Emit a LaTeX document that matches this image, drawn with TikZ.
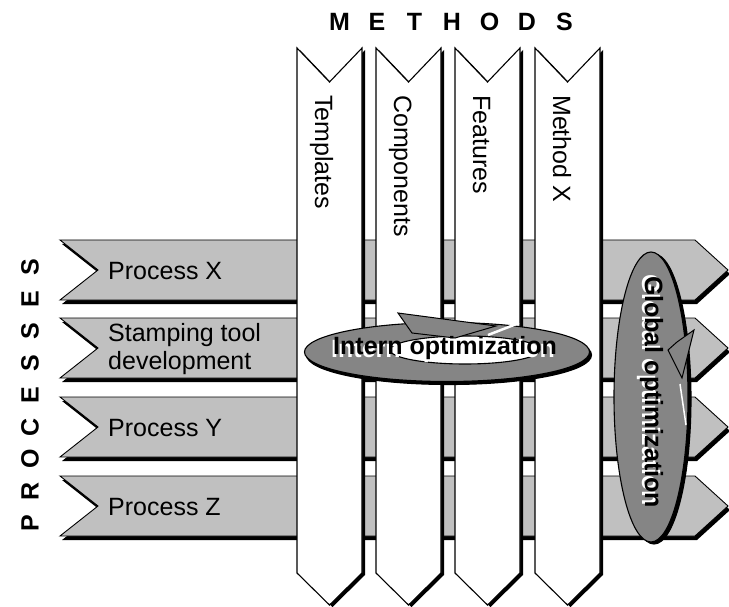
\documentclass[tikz,border=0pt]{standalone}
\usepackage{fontspec}
\setmainfont{Liberation Sans}
\usetikzlibrary{shapes.geometric,positioning}
\definecolor{bandgray}{HTML}{C0C0C0}
\definecolor{ovalgray}{HTML}{858585}
% bold text with a white copy set just below it
\newcommand{\embossed}[1]{\makebox[0pt][l]{\hspace{-2pt}\raisebox{-3pt}{\color{white}#1}}#1}
\tikzset{
    % process bands, running left to right
    band/.style={
           fill=bandgray,
           draw=black, line width=0.9pt,
           line join=miter},
    % method columns, running top to bottom
    column/.style={
           fill=white,
           draw=black, line width=1.1pt,
           line join=miter},
    shadowfill/.style={fill=black},
    bandlabel/.style={
           font=\fontsize{25}{28}\selectfont,
           anchor=west, align=left,
           inner sep=0pt},
    collabel/.style={
           font=\fontsize{25}{28}\selectfont,
           rotate=-90, anchor=base west,
           inner sep=0pt},
    headletter/.style={
           font=\bfseries\fontsize{25}{28}\selectfont,
           inner sep=0pt},
    % optimization ovals
    oval/.style={
           ellipse,
           draw=black, line width=1.1pt,
           fill=ovalgray,
           inner sep=0pt},
    ovaltext/.style={
           font=\bfseries\fontsize{25}{28}\selectfont,
           inner sep=0pt}
}
\begin{document}
\begin{tikzpicture}[x=1pt,y=-1pt]
\useasboundingbox (0,0) rectangle (729,607);

%processes
\foreach \t/\txt [count=\i] in {240/{Process X},318/{Stamping tool\\development},397/{Process Y},476/{Process Z}}{
  \fill[shadowfill,shift={(2,4)}] (60,\t) -- (695,\t) -- (728,\t+30) -- (695,\t+60) -- (60,\t+60) -- (98,\t+30) -- cycle;
  \draw[band] (60,\t) -- (695,\t) -- (728,\t+30) -- (695,\t+60) -- (60,\t+60) -- (98,\t+30) -- cycle;
  \node[bandlabel] (proc\i) at (108,\t+31) {\txt};
}
\foreach \l [count=\i] in {P,R,O,C,E,S,S,E,S}
  \node[headletter,rotate=90] (p\i) at (30,555-32*\i) {\l};

%methods
\foreach \x/\txt [count=\i] in {297/Templates,376/Components,455/Features,535/{Method X}}{
  \fill[shadowfill,shift={(3,2)}] (\x,48) -- (\x+32.5,82) -- (\x+65,48) -- (\x+65,573) -- (\x+32.5,605) -- (\x,573) -- cycle;
  \draw[column] (\x,48) -- (\x+32.5,82) -- (\x+65,48) -- (\x+65,573) -- (\x+32.5,605) -- (\x,573) -- cycle;
  \node[collabel] (meth\i) at (\x+18,95) {\txt};
}
\foreach \l [count=\i] in {M,E,T,H,O,D,S}
  \node[headletter] (m\i) at (302+37.5*\i,22) {\l};

%intern optimization
\node[oval,fill=black,minimum width=285,minimum height=59] at (449,355) {};
\node[oval,minimum width=285,minimum height=59] (intern) at (447,352) {};
\node[ellipse,draw=black,line width=1.1pt,fill=white,minimum width=150,minimum height=28] (internhole) at (465,350) {};
\draw[fill=ovalgray,line width=1pt,line join=miter] (398,313) -- (496,326) -- (455,338) -- (412,333) -- cycle;
\draw[white,line width=2.5pt] (488,335) -- (519,323);
\node[ovaltext] (interntext) at (445,350) {\embossed{Intern optimization}};

%global optimization
\node[oval,fill=black,minimum width=74,minimum height=290] at (654,399) {};
\node[oval,minimum width=74,minimum height=290] (global) at (651,397) {};
\draw[fill=ovalgray,line width=1pt,line join=miter] (694,330) -- (682,378) -- (668,350) -- (677,342) -- cycle;
\draw[white,line width=1.5pt] (680,384) -- (686,425);
\node[ovaltext,rotate=-90] (globaltext) at (650,392) {\embossed{Global optimization}};
\end{tikzpicture}
\end{document}
